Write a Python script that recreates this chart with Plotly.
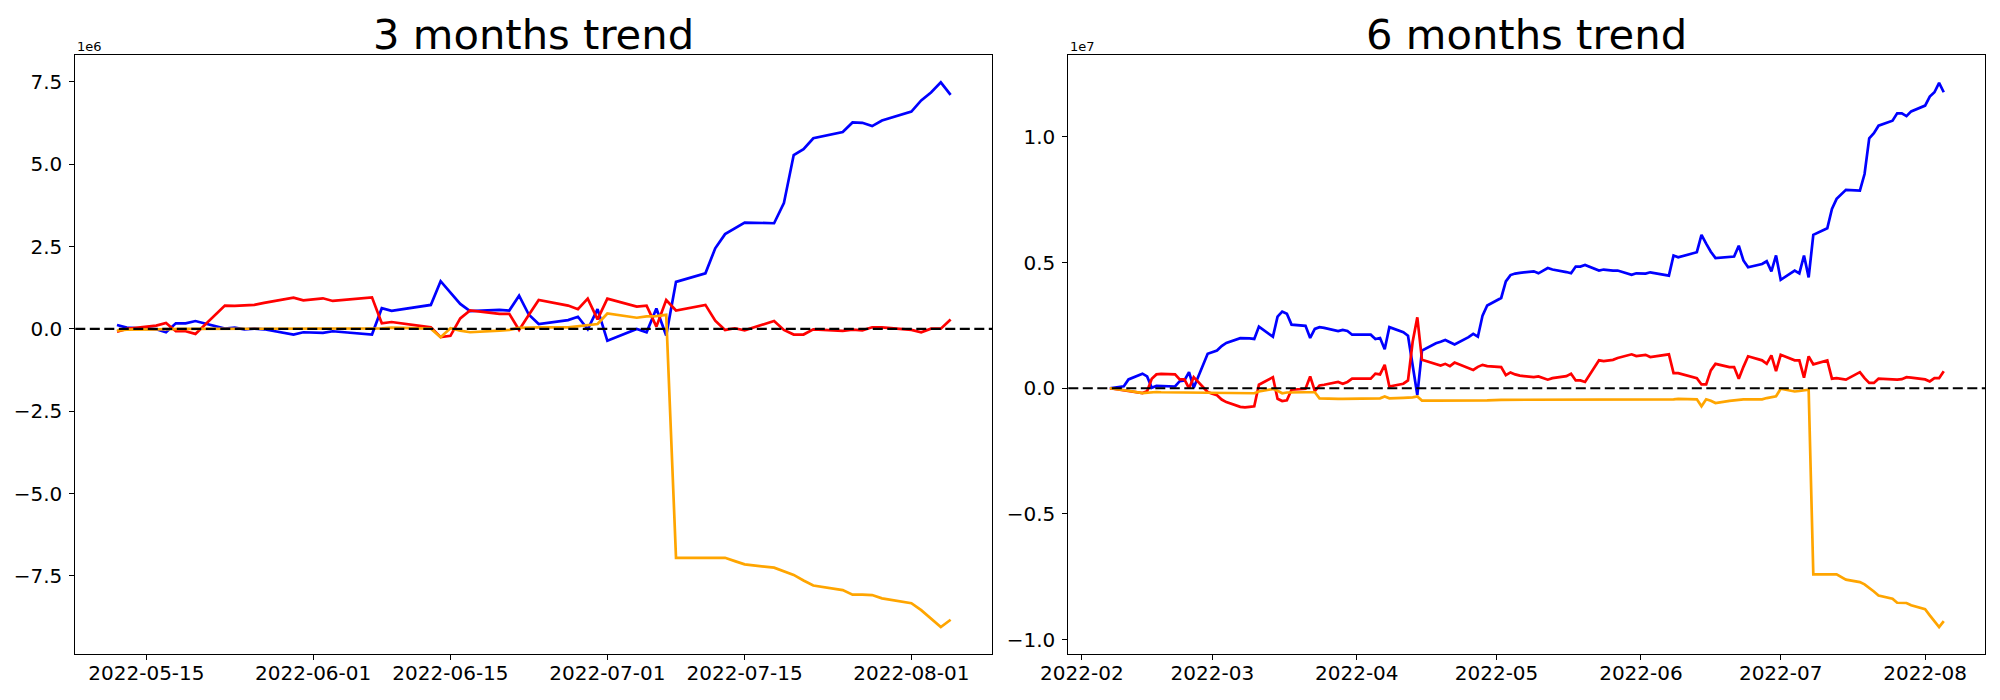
import plotly.graph_objects as go

# ---------------- 3 months data (values in units of 1e6) ----------------
dates_3m = ["2022-05-12", "2022-05-13", "2022-05-16", "2022-05-17", "2022-05-18", "2022-05-19",
            "2022-05-20", "2022-05-23", "2022-05-24", "2022-05-25", "2022-05-26", "2022-05-27",
            "2022-05-30", "2022-05-31", "2022-06-02", "2022-06-03", "2022-06-07", "2022-06-08",
            "2022-06-09", "2022-06-13", "2022-06-14", "2022-06-15", "2022-06-16", "2022-06-17",
            "2022-06-20", "2022-06-21", "2022-06-22", "2022-06-23", "2022-06-24", "2022-06-27",
            "2022-06-28", "2022-06-29", "2022-06-30", "2022-07-01", "2022-07-04", "2022-07-05",
            "2022-07-06", "2022-07-07", "2022-07-08", "2022-07-11", "2022-07-12", "2022-07-13",
            "2022-07-14", "2022-07-15", "2022-07-18", "2022-07-19", "2022-07-20", "2022-07-21",
            "2022-07-22", "2022-07-25", "2022-07-26", "2022-07-27", "2022-07-28", "2022-07-29",
            "2022-08-01", "2022-08-02", "2022-08-03", "2022-08-04", "2022-08-05"]
blue_3m = [0.12, 0.04, -0.01, -0.10, 0.17, 0.17, 0.24, 0.01, 0.04, -0.01, 0.01, -0.01,
           -0.17, -0.10, -0.12, -0.07, -0.17, 0.63, 0.55, 0.73, 1.45, 1.10, 0.76, 0.54,
           0.58, 0.56, 1.01, 0.43, 0.15, 0.27, 0.37, -0.01, 0.60, -0.36, 0.00, -0.10,
           0.62, -0.20, 1.43, 1.69, 2.45, 2.88, 3.06, 3.23, 3.21, 3.82, 5.28, 5.46,
           5.79, 5.98, 6.27, 6.26, 6.16, 6.33, 6.60, 6.94, 7.18, 7.49, 7.11]
red_3m = [-0.08, 0.00, 0.10, 0.18, -0.07, -0.07, -0.15, 0.71, 0.70, 0.72, 0.73, 0.79,
          0.95, 0.87, 0.93, 0.85, 0.96, 0.17, 0.21, 0.05, -0.25, -0.21, 0.32, 0.56,
          0.46, 0.46, -0.03, 0.43, 0.88, 0.71, 0.60, 0.92, 0.29, 0.92, 0.68, 0.71,
          0.07, 0.88, 0.56, 0.73, 0.25, -0.03, 0.02, -0.04, 0.24, -0.03, -0.17, -0.17,
          -0.01, -0.06, -0.02, -0.04, 0.05, 0.05, -0.03, -0.10, 0.01, 0.01, 0.29]
orange_3m = [-0.05, -0.02, -0.01, 0.00, 0.00, 0.00, 0.00, 0.00, 0.00, 0.00, 0.01, 0.01,
             0.00, 0.00, 0.00, 0.00, 0.00, 0.02, 0.04, 0.01, -0.25, 0.02, -0.05, -0.10,
             -0.05, -0.03, 0.03, 0.05, 0.05, 0.05, 0.09, 0.11, 0.15, 0.47, 0.34, 0.38,
             0.39, 0.43, -6.95, -6.95, -6.95, -6.95, -7.05, -7.15, -7.25, -7.37, -7.47, -7.64,
             -7.79, -7.93, -8.07, -8.07, -8.08, -8.18, -8.33, -8.54, -8.80, -9.05, -8.83]

# ---------------- 6 months data (values in units of 1e6) ----------------
dates_6m = ["2022-02-07", "2022-02-08", "2022-02-09", "2022-02-10", "2022-02-11", "2022-02-14",
            "2022-02-15", "2022-02-16", "2022-02-17", "2022-02-18", "2022-02-21", "2022-02-22",
            "2022-02-23", "2022-02-24", "2022-02-25", "2022-02-28", "2022-03-01", "2022-03-02",
            "2022-03-03", "2022-03-04", "2022-03-07", "2022-03-08", "2022-03-09", "2022-03-10",
            "2022-03-11", "2022-03-14", "2022-03-15", "2022-03-16", "2022-03-17", "2022-03-18",
            "2022-03-21", "2022-03-22", "2022-03-23", "2022-03-24", "2022-03-25", "2022-03-28",
            "2022-03-29", "2022-03-30", "2022-03-31", "2022-04-04", "2022-04-05", "2022-04-06",
            "2022-04-07", "2022-04-08", "2022-04-11", "2022-04-12", "2022-04-13", "2022-04-14",
            "2022-04-15", "2022-04-18", "2022-04-19", "2022-04-20", "2022-04-21", "2022-04-22",
            "2022-04-25", "2022-04-26", "2022-04-27", "2022-04-28", "2022-04-29", "2022-05-02",
            "2022-05-03", "2022-05-04", "2022-05-05", "2022-05-06", "2022-05-09", "2022-05-10",
            "2022-05-12", "2022-05-13", "2022-05-16", "2022-05-17", "2022-05-18", "2022-05-19",
            "2022-05-20", "2022-05-23", "2022-05-24", "2022-05-25", "2022-05-26", "2022-05-27",
            "2022-05-30", "2022-05-31", "2022-06-02", "2022-06-03", "2022-06-07", "2022-06-08",
            "2022-06-09", "2022-06-13", "2022-06-14", "2022-06-15", "2022-06-16", "2022-06-17",
            "2022-06-20", "2022-06-21", "2022-06-22", "2022-06-23", "2022-06-24", "2022-06-27",
            "2022-06-28", "2022-06-29", "2022-06-30", "2022-07-01", "2022-07-04", "2022-07-05",
            "2022-07-06", "2022-07-07", "2022-07-08", "2022-07-11", "2022-07-12", "2022-07-13",
            "2022-07-15", "2022-07-18", "2022-07-19", "2022-07-20", "2022-07-21", "2022-07-22",
            "2022-07-25", "2022-07-26", "2022-07-27", "2022-07-28", "2022-07-29", "2022-08-01",
            "2022-08-02", "2022-08-03", "2022-08-04", "2022-08-05"]
blue_6m = [0.00, 0.02, 0.04, 0.08, 0.35, 0.58, 0.47, 0.02, 0.09, 0.08, 0.07, 0.28,
           0.31, 0.64, 0.02, 1.37, 1.44, 1.50, 1.68, 1.80, 1.99, 2.00, 1.98, 1.96,
           2.45, 2.05, 2.85, 3.05, 2.96, 2.53, 2.48, 2.00, 2.36, 2.43, 2.40, 2.27,
           2.32, 2.28, 2.13, 2.13, 1.96, 2.00, 1.55, 2.43, 2.23, 2.09, 0.85, -0.27,
           1.50, 1.79, 1.85, 1.92, 1.83, 1.74, 2.03, 2.16, 2.05, 2.89, 3.29, 3.59,
           4.25, 4.50, 4.56, 4.59, 4.65, 4.57, 4.78, 4.72, 4.62, 4.57, 4.84, 4.84,
           4.90, 4.68, 4.72, 4.69, 4.68, 4.68, 4.51, 4.57, 4.56, 4.61, 4.48, 5.28,
           5.21, 5.41, 6.10, 5.75, 5.43, 5.18, 5.22, 5.24, 5.67, 5.08, 4.81, 4.94,
           5.05, 4.65, 5.28, 4.31, 4.68, 4.57, 5.28, 4.41, 6.10, 6.36, 7.13, 7.53,
           7.89, 7.86, 8.52, 9.94, 10.14, 10.44, 10.64, 10.93, 10.93, 10.82, 11.01, 11.24,
           11.60, 11.77, 12.14, 11.77]
red_6m = [0.00, -0.03, -0.06, -0.10, -0.13, -0.19, -0.12, 0.38, 0.55, 0.57, 0.55, 0.35,
          0.35, 0.00, 0.44, -0.15, -0.22, -0.28, -0.45, -0.55, -0.74, -0.76, -0.74, -0.72,
          0.14, 0.44, -0.42, -0.51, -0.48, -0.06, -0.02, 0.47, -0.11, 0.11, 0.14, 0.25,
          0.18, 0.25, 0.38, 0.38, 0.58, 0.55, 0.93, 0.07, 0.18, 0.31, 1.85, 2.82,
          1.13, 0.95, 0.90, 0.97, 0.88, 1.02, 0.80, 0.73, 0.85, 0.93, 0.88, 0.84,
          0.52, 0.63, 0.55, 0.50, 0.44, 0.47, 0.34, 0.40, 0.48, 0.58, 0.31, 0.31,
          0.25, 1.11, 1.08, 1.10, 1.13, 1.20, 1.35, 1.28, 1.33, 1.24, 1.35, 0.60,
          0.60, 0.40, 0.15, 0.15, 0.71, 0.97, 0.84, 0.84, 0.38, 0.85, 1.27, 1.11,
          0.97, 1.31, 0.68, 1.33, 1.11, 1.11, 0.42, 1.27, 0.95, 1.11, 0.38, 0.40,
          0.34, 0.64, 0.40, 0.21, 0.21, 0.38, 0.35, 0.34, 0.36, 0.44, 0.42, 0.35,
          0.27, 0.40, 0.40, 0.68]
orange_6m = [0.00, -0.02, -0.05, -0.07, -0.10, -0.19, -0.17, -0.15, -0.15, -0.16, -0.17, -0.17,
             -0.17, -0.17, -0.17, -0.17, -0.18, -0.18, -0.19, -0.19, -0.20, -0.20, -0.20, -0.20,
             -0.13, -0.03, -0.10, -0.20, -0.17, -0.16, -0.16, -0.16, -0.16, -0.40, -0.41, -0.42,
             -0.42, -0.42, -0.42, -0.41, -0.40, -0.40, -0.33, -0.40, -0.38, -0.38, -0.36, -0.33,
             -0.49, -0.49, -0.49, -0.49, -0.49, -0.49, -0.48, -0.48, -0.48, -0.48, -0.48, -0.46,
             -0.46, -0.46, -0.47, -0.47, -0.47, -0.47, -0.46, -0.46, -0.46, -0.46, -0.46, -0.46,
             -0.46, -0.46, -0.46, -0.46, -0.46, -0.46, -0.46, -0.46, -0.46, -0.46, -0.46, -0.44,
             -0.42, -0.44, -0.72, -0.44, -0.50, -0.59, -0.50, -0.48, -0.44, -0.44, -0.44, -0.44,
             -0.39, -0.36, -0.32, -0.02, -0.13, -0.11, -0.09, -0.06, -7.40, -7.40, -7.40, -7.40,
             -7.61, -7.71, -7.80, -7.93, -8.08, -8.24, -8.37, -8.53, -8.53, -8.54, -8.63, -8.79,
             -9.03, -9.27, -9.50, -9.26]

# ---------------- tick labels ----------------
xticks_3m = ["2022-05-15", "2022-06-01", "2022-06-15", "2022-07-01", "2022-07-15", "2022-08-01"]
xticks_6m = ["2022-02-01", "2022-03-01", "2022-04-01", "2022-05-01", "2022-06-01", "2022-07-01", "2022-08-01"]
xtext_6m = ["2022-02", "2022-03", "2022-04", "2022-05", "2022-06", "2022-07", "2022-08"]
yticks_3m = [-7.5, -5.0, -2.5, 0.0, 2.5, 5.0, 7.5]          # units of 1e6
yticks_6m = [-1.0, -0.5, 0.0, 0.5, 1.0]                     # units of 1e7
titles = ["3 months trend", "6 months trend"]
offsets = ["1e6", "1e7"]

FONT = "DejaVu Sans"
COLORS = {"blue": "#0000ff", "red": "#ff0000", "orange": "#ffa500"}
LW = 2.7

# page body has an 8px margin; layout positions are compensated for it
W, H, OFF = 2000, 700, 8


def px_x(p):
    return (p - OFF) / W


def px_y(p):
    return 1 - (p - OFF) / H


def fmt(v):
    s = f"{abs(v):.1f}"
    return ("\u2212" + s) if v < 0 else s


fig = go.Figure()

series_3m = [("blue", blue_3m), ("red", red_3m), ("orange", orange_3m)]
series_6m = [("blue", blue_6m), ("red", red_6m), ("orange", orange_6m)]

for name, vals in series_3m:
    fig.add_trace(go.Scatter(x=dates_3m, y=[v * 1e6 for v in vals], mode="lines",
                             line=dict(color=COLORS[name], width=LW),
                             xaxis="x", yaxis="y", showlegend=False))
for name, vals in series_6m:
    fig.add_trace(go.Scatter(x=dates_6m, y=[v * 1e6 for v in vals], mode="lines",
                             line=dict(color=COLORS[name], width=LW),
                             xaxis="x2", yaxis="y2", showlegend=False))

dom_left = [px_x(75.3), px_x(992.3)]
dom_right = [px_x(1068.3), px_x(1985.3)]
dom_y = [px_y(654.3), px_y(55.3)]

axis_common = dict(showline=True, mirror=True, linecolor="black", linewidth=1.1,
                   ticks="outside", ticklen=5, tickwidth=1.1, tickcolor="black",
                   showgrid=False, zeroline=False,
                   tickfont=dict(family=FONT, size=20, color="black"),
                   automargin=False)

fig.update_layout(
    width=W, height=H, autosize=False,
    margin=dict(l=0, r=0, t=0, b=0),
    paper_bgcolor="white", plot_bgcolor="white",
    font=dict(family=FONT, color="black"),
    xaxis=dict(domain=dom_left, type="date",
               range=["2022-05-07 18:00", "2022-08-09 06:00"],
               tickmode="array", tickvals=xticks_3m, ticktext=xticks_3m,
               anchor="y", ticklabelstandoff=-4, **axis_common),
    yaxis=dict(domain=dom_y, range=[-9.88e6, 8.31e6],
               tickmode="array", tickvals=[v * 1e6 for v in yticks_3m],
               ticktext=[fmt(v) for v in yticks_3m], anchor="x",
               ticklabelstandoff=3, **axis_common),
    xaxis2=dict(domain=dom_right, type="date",
                range=["2022-01-29 02:00", "2022-08-13 22:00"],
                tickmode="array", tickvals=xticks_6m, ticktext=xtext_6m,
                anchor="y2", ticklabelstandoff=-4, **axis_common),
    yaxis2=dict(domain=dom_y, range=[-1.058e7, 1.324e7],
                tickmode="array", tickvals=[v * 1e7 for v in yticks_6m],
                ticktext=[fmt(v) for v in yticks_6m], anchor="x2",
                ticklabelstandoff=3, **axis_common),
)

# dashed zero reference lines
for xr, yr in (("x domain", "y"), ("x2 domain", "y2")):
    fig.add_shape(type="line", xref=xr, yref=yr, x0=0, x1=1, y0=0, y1=0,
                  line=dict(color="black", width=2.2, dash="10px,4.5px"), layer="above")

# titles and offset texts (titles anchored at their top so the text box stays inside the page)
for dom, title, off in ((dom_left, titles[0], offsets[0]), (dom_right, titles[1], offsets[1])):
    fig.add_annotation(text=title, xref="paper", yref="paper",
                       x=(dom[0] + dom[1]) / 2, y=1.0,
                       xanchor="center", yanchor="top", showarrow=False,
                       font=dict(family=FONT, size=41.7, color="black"))
    fig.add_annotation(text=off, xref="paper", yref="paper",
                       x=dom[0], y=px_y(46.5),
                       xanchor="left", yanchor="middle", showarrow=False,
                       font=dict(family=FONT, size=13, color="black"))

fig.write_html("out.html")
